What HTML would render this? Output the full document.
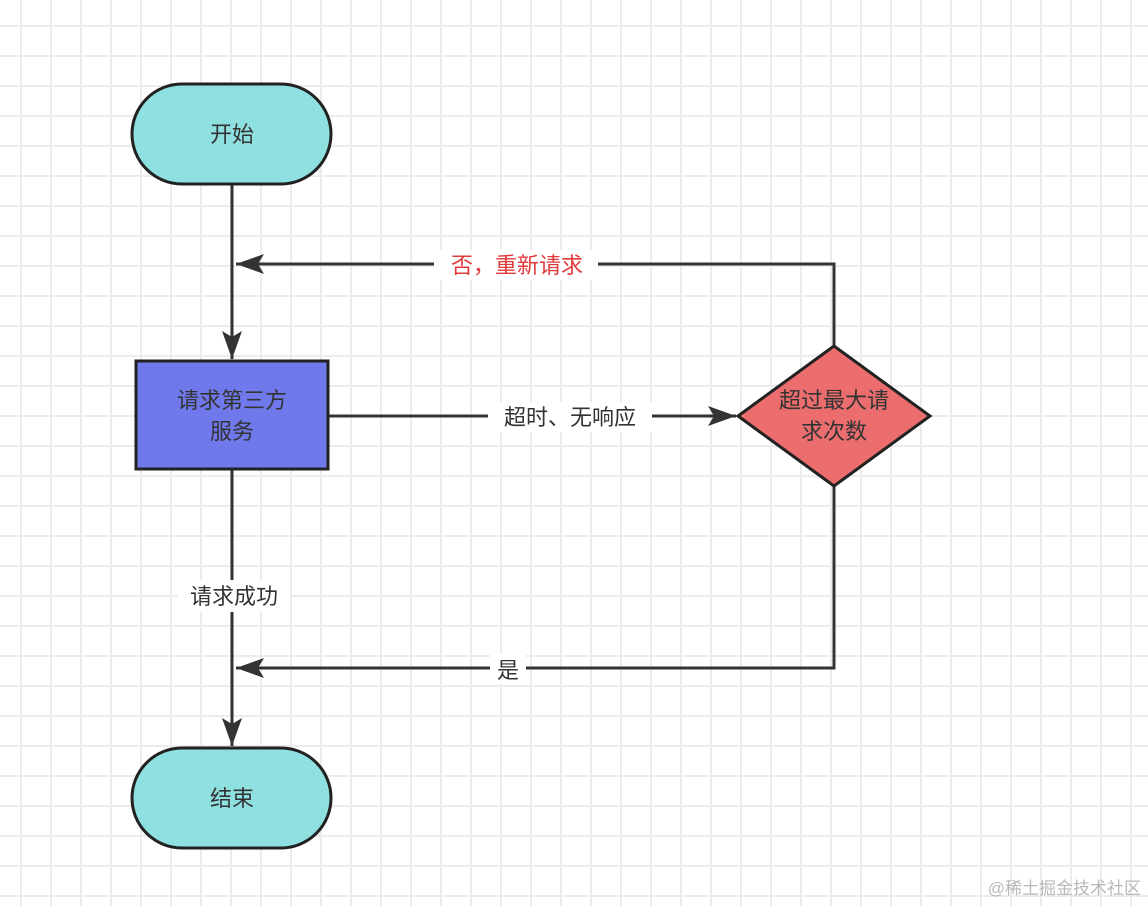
<!DOCTYPE html>
<html><head><meta charset="utf-8"><style>
html,body{margin:0;padding:0;background:#fff;}
body{width:1148px;height:906px;overflow:hidden;position:relative;
background-image:linear-gradient(to right,#ececec 2px,transparent 2px),linear-gradient(to bottom,#ececec 2px,transparent 2px);
background-size:30px 30px;background-position:20px 25px;}
svg{position:absolute;left:0;top:0}
text{font-family:"Liberation Sans","Noto Sans CJK SC",sans-serif;font-size:22px;fill:#333;}
</style></head><body>
<svg width="1148" height="906" viewBox="0 0 1148 906">
<defs><marker id="a" markerWidth="10" markerHeight="10" refX="9" refY="5" orient="auto" markerUnits="userSpaceOnUse"><path d="M0,0 L10,5 L0,10 Z" fill="#333"/></marker>
<marker id="b" viewBox="0 0 28 20" markerWidth="28" markerHeight="20" refX="28" refY="10" orient="auto" markerUnits="userSpaceOnUse"><path d="M0,0 L28,10 L0,20 L6,10 Z" fill="#333"/></marker></defs>
<g stroke="#333" stroke-width="3" fill="none">
<line x1="232" y1="184" x2="232" y2="359" marker-end="url(#b)"/>
<line x1="232" y1="469" x2="232" y2="746" marker-end="url(#b)"/>
<line x1="328" y1="416" x2="736" y2="416" marker-end="url(#b)"/>
<polyline points="834,346 834,264 236,264" marker-end="url(#b)"/>
<polyline points="834,486 834,668 236,668" marker-end="url(#b)"/>
</g>
<rect x="132" y="84" width="199" height="100" rx="50" fill="#8fe0e0" stroke="#222" stroke-width="3"/>
<rect x="132" y="748" width="199" height="100" rx="50" fill="#8fe0e0" stroke="#222" stroke-width="3"/>
<rect x="136" y="361" width="192" height="108" fill="#7079ec" stroke="#222" stroke-width="3"/>
<polygon points="834,346 930,416 834,486 738,416" fill="#ec6d6d" stroke="#222" stroke-width="3"/>
<rect x="434" y="250" width="164" height="30" fill="#fff"/>
<rect x="488" y="402" width="164" height="30" fill="#fff"/>
<rect x="178" y="580" width="112" height="32" fill="#fff"/>
<rect x="490" y="654" width="36" height="30" fill="#fff"/>
<text x="232" y="142" text-anchor="middle">开始</text>
<text x="232" y="806" text-anchor="middle">结束</text>
<text x="232" y="408" text-anchor="middle">请求第三方</text>
<text x="232" y="439" text-anchor="middle">服务</text>
<text x="834" y="408" text-anchor="middle">超过最大请</text>
<text x="834" y="439" text-anchor="middle">求次数</text>
<text x="517" y="273" text-anchor="middle" style="fill:#e03a3a">否，重新请求</text>
<text x="570" y="425" text-anchor="middle">超时、无响应</text>
<text x="234" y="604" text-anchor="middle">请求成功</text>
<text x="508" y="678" text-anchor="middle">是</text>
<text x="1141" y="894" text-anchor="end" style="font-size:17px;fill:#b8b8b8">@稀土掘金技术社区</text>
</svg>
</body></html>
